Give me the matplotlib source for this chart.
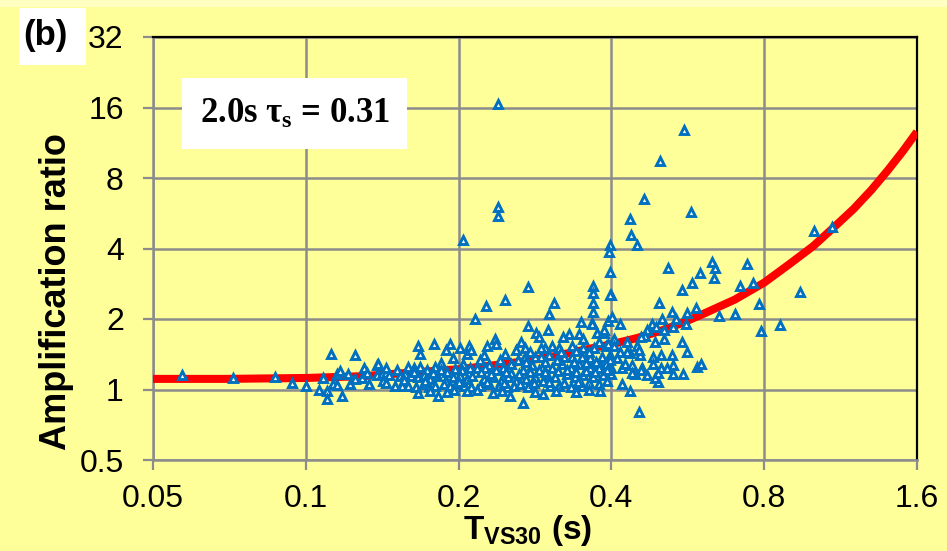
import matplotlib
matplotlib.use("Agg")
import matplotlib.pyplot as plt
from matplotlib.patches import Rectangle
from matplotlib.ticker import FixedLocator, FixedFormatter, NullLocator

plt.rcParams['font.family'] = ['Liberation Sans', 'DejaVu Sans']
plt.rcParams['mathtext.fontset'] = 'custom'
plt.rcParams['mathtext.rm'] = 'Liberation Serif:bold'
plt.rcParams['mathtext.bf'] = 'Liberation Sans:bold'

# ---------------- data ----------------
x_ticks = [0.05, 0.1, 0.2, 0.4, 0.8, 1.6]
x_tick_labels = ['0.05', '0.1', '0.2', '0.4', '0.8', '1.6']
y_ticks = [0.5, 1, 2, 4, 8, 16, 32]
y_tick_labels = ['0.5', '1', '2', '4', '8', '16', '32']

# fitted curve
curve_t = [0.05, 0.07, 0.1, 0.13, 0.16, 0.2, 0.25, 0.3, 0.35, 0.4, 0.45, 0.5, 0.55,
           0.6, 0.7, 0.8, 0.9, 1.0, 1.1, 1.2, 1.3, 1.4, 1.5, 1.6]
curve_amp = [1.11, 1.11, 1.12, 1.14, 1.18, 1.22, 1.29, 1.37, 1.47, 1.56, 1.66, 1.78, 1.92,
             2.08, 2.42, 2.86, 3.45, 4.1, 4.95, 5.9, 7.1, 8.6, 10.4, 12.6]

# observed points (T_VS30 in s, amplification ratio)
obs_t = [
    0.057, 0.072, 0.087, 0.094, 0.100,
    0.106, 0.108, 0.110, 0.110, 0.112, 0.113, 0.115, 0.115, 0.117, 0.118, 0.121, 0.122,
    0.125, 0.125, 0.129, 0.130, 0.132, 0.133, 0.138, 0.139, 0.138, 0.141, 0.142, 0.144,
    0.166, 0.179, 0.168, 0.192, 0.189, 0.201, 0.210, 0.208, 0.195, 0.185, 0.204,
    0.144, 0.151, 0.159, 0.163, 0.168, 0.173, 0.180, 0.185, 0.190, 0.197, 0.203, 0.211,
    0.146, 0.153, 0.157, 0.161, 0.166, 0.171, 0.176, 0.181, 0.189, 0.195, 0.201, 0.208, 0.213,
    0.144, 0.150, 0.155, 0.159, 0.165, 0.171, 0.175, 0.180, 0.187, 0.192, 0.198, 0.205, 0.212,
    0.166, 0.176, 0.182, 0.190, 0.196, 0.208,
    0.239, 0.556, 0.499, 0.464, 0.574, 0.239, 0.239, 0.204, 0.435, 0.438, 0.450, 0.398,
    0.395, 0.398, 0.400, 0.368, 0.368, 0.368, 0.368, 0.366, 0.274, 0.247, 0.226, 0.215,
    0.308, 0.302, 0.348, 0.274, 0.284, 0.300,
    0.517, 0.598, 0.631, 0.640, 0.637, 0.577, 0.551, 0.497, 0.587, 0.564, 0.526, 0.536,
    0.453, 0.268, 0.293, 0.435, 0.420, 0.590, 0.600, 0.553, 0.564, 0.551, 0.495, 0.488, 0.470,
    1.003, 1.088, 0.941, 0.860, 0.789, 0.780, 0.760, 0.740, 0.717, 0.700, 0.652,
    0.560, 0.530, 0.504, 0.480, 0.470, 0.465, 0.490, 0.508, 0.508, 0.487, 0.526, 0.500,
    0.484, 0.455, 0.435, 0.416, 0.397, 0.530, 0.500, 0.484, 0.460, 0.440, 0.420, 0.400,
    0.446, 0.397, 0.380, 0.390, 0.405, 0.450, 0.430,
    0.398, 0.366, 0.393, 0.375, 0.387, 0.330, 0.345, 0.321, 0.378, 0.393, 0.288, 0.305,
    0.352, 0.352, 0.334, 0.296, 0.316, 0.370,
    0.291, 0.302, 0.323, 0.334, 0.350, 0.363, 0.383, 0.397,
    0.292, 0.305, 0.319, 0.333, 0.345, 0.363, 0.378, 0.390,
    0.298, 0.310, 0.327, 0.339, 0.352, 0.368, 0.385,
    0.303, 0.316, 0.333, 0.350,
    0.236, 0.237, 0.228, 0.265, 0.270, 0.259, 0.291, 0.210, 0.212, 0.247, 0.224, 0.270, 0.283,
    0.220, 0.230, 0.254, 0.262, 0.279,
    0.217, 0.225, 0.237, 0.245, 0.254, 0.268, 0.288,
    0.224, 0.234, 0.242, 0.250, 0.259, 0.272, 0.283, 0.293,
    0.220, 0.230, 0.240, 0.249, 0.257, 0.274,
    0.217, 0.234, 0.252,
    0.402, 0.416, 0.458, 0.387, 0.405, 0.430, 0.453, 0.410, 0.425, 0.515, 0.400, 0.440,
    0.458, 0.495, 0.530,
    0.221, 0.232, 0.248, 0.263, 0.277, 0.296, 0.314, 0.327, 0.341, 0.356, 0.372, 0.392,
    0.228, 0.246, 0.264, 0.281, 0.301, 0.322, 0.343, 0.361, 0.378, 0.392,
    0.241, 0.271, 0.296, 0.312, 0.338, 0.356, 0.373,
    0.276, 0.318, 0.341, 0.361,
    0.311, 0.341, 0.361, 0.380, 0.243, 0.283,
    0.156, 0.172, 0.200, 0.163, 0.178,
]
obs_amp = [
    1.15, 1.12, 1.13, 1.07, 1.04,
    1.00, 1.12, 0.99, 0.915, 1.42, 1.06, 1.17, 1.05, 1.20, 0.94, 1.17, 1.06,
    1.41, 1.11, 1.12, 1.24, 1.18, 1.06, 1.27, 1.29, 1.15, 1.17, 1.09, 1.18,
    1.53, 1.57, 1.42, 1.57, 1.47, 1.50, 1.51, 1.42, 1.36, 1.30, 1.29,
    1.23, 1.21, 1.25, 1.23, 1.25, 1.21, 1.25, 1.21, 1.19, 1.22, 1.21, 1.23,
    1.15, 1.14, 1.16, 1.14, 1.13, 1.15, 1.11, 1.14, 1.09, 1.13, 1.14, 1.11, 1.14,
    1.07, 1.03, 1.04, 1.03, 1.02, 1.06, 1.02, 1.03, 1.06, 1.04, 1.06, 1.04, 1.02,
    0.97, 0.99, 0.94, 0.98, 1.00, 0.99,
    16.5, 12.8, 9.41, 6.48, 5.70, 5.99, 5.48, 4.37, 5.37, 4.59, 4.12, 4.16,
    3.85, 3.16, 2.54, 2.78, 2.57, 2.35, 2.15, 1.93, 2.73, 2.40, 2.28, 2.00,
    2.33, 2.11, 1.95, 1.86, 1.75, 1.80,
    3.29, 3.13, 3.49, 3.29, 2.98, 2.86, 2.65, 2.33, 2.22, 2.13, 2.15, 2.00,
    0.80, 0.88, 0.96, 0.99, 1.06, 1.25, 1.28, 1.17, 1.45, 1.59, 1.08, 1.12, 1.15,
    4.73, 4.92, 2.62, 1.88, 1.77, 2.31, 2.86, 3.45, 2.78, 2.11, 2.05,
    1.91, 1.84, 2.00, 1.91, 1.79, 1.70, 1.84, 1.65, 1.79, 1.59, 1.41, 1.41,
    1.37, 1.40, 1.43, 1.44, 1.40, 1.27, 1.24, 1.29, 1.24, 1.27, 1.24, 1.24,
    1.17, 1.18, 1.29, 1.54, 1.65, 1.54, 1.59,
    2.52, 1.91, 1.97, 1.75, 1.75, 1.73, 1.72, 1.67, 1.59, 1.57, 1.67, 1.54,
    1.65, 1.51, 1.54, 1.51, 1.50, 1.51,
    1.37, 1.40, 1.37, 1.37, 1.37, 1.36, 1.37, 1.33,
    1.24, 1.24, 1.29, 1.24, 1.29, 1.23, 1.24, 1.29,
    1.15, 1.13, 1.17, 1.13, 1.15, 1.13, 1.15,
    1.04, 1.04, 1.02, 1.04,
    1.65, 1.57, 1.54, 1.59, 1.50, 1.47, 1.51, 1.54, 1.47, 1.42, 1.40, 1.37, 1.37,
    1.33, 1.27, 1.29, 1.33, 1.27,
    1.23, 1.24, 1.21, 1.23, 1.18, 1.21, 1.21,
    1.11, 1.13, 1.09, 1.13, 1.09, 1.11, 1.13, 1.09,
    1.04, 1.06, 1.04, 1.02, 1.04, 1.02,
    1.00, 0.97, 0.94,
    2.03, 1.91, 1.67, 1.79, 1.54, 1.44, 1.47, 1.36, 1.29, 1.24, 1.17, 1.18,
    1.21, 1.18, 1.17,
    1.19, 1.17, 1.19, 1.16, 1.19, 1.19, 1.20, 1.21, 1.19, 1.20, 1.19, 1.21,
    1.08, 1.07, 1.06, 1.07, 1.08, 1.07, 1.08, 1.07, 1.06, 1.09,
    1.33, 1.31, 1.31, 1.33, 1.31, 1.30, 1.31,
    1.45, 1.44, 1.46, 1.44,
    0.99, 0.98, 1.00, 0.99, 0.99, 0.98,
    1.10, 1.09, 1.08, 1.19, 1.18,
]

# ---------------- styling ----------------
bg = '#FFFF99'
grid_col = '#8C8C8C'
blue = '#0070C0'

fig = plt.figure(figsize=(9.47, 5.51), dpi=100, facecolor=bg)
# lighter band at the very top of the slide image
fig.patches.append(Rectangle((0, 1 - 7 / 551), 1, 7 / 551, transform=fig.transFigure,
                             facecolor='#FFFFC2', edgecolor='none', zorder=0))

ax = fig.add_axes([153 / 947, 1 - 460 / 551, (917 - 153) / 947, (460 - 37) / 551])
ax.set_facecolor(bg)
ax.set_xscale('log', base=2)
ax.set_yscale('log', base=2)
ax.set_xlim(x_ticks[0], x_ticks[-1])
ax.set_ylim(y_ticks[0], y_ticks[-1])

ax.xaxis.set_major_locator(FixedLocator(x_ticks))
ax.xaxis.set_major_formatter(FixedFormatter(x_tick_labels))
ax.xaxis.set_minor_locator(NullLocator())
ax.yaxis.set_major_locator(FixedLocator(y_ticks))
ax.yaxis.set_major_formatter(FixedFormatter(y_tick_labels))
ax.yaxis.set_minor_locator(NullLocator())

ax.grid(True, color=grid_col, linewidth=1.8, zorder=0)
ax.set_axisbelow(True)
ax.tick_params(axis='both', which='major', direction='out', length=7, width=1.6,
               color=grid_col, labelsize=23, labelcolor='black')
ax.tick_params(axis='y', pad=14)
ax.tick_params(axis='x', pad=10)

for side in ['left', 'bottom']:
    ax.spines[side].set_color(grid_col)
    ax.spines[side].set_linewidth(1.8)
for side in ['top', 'right']:
    ax.spines[side].set_color('black')
    ax.spines[side].set_linewidth(1.6)

ax.plot(curve_t, curve_amp, color='#FF0000', linewidth=5.8, solid_capstyle='butt',
        zorder=3, clip_on=True)
ax.plot(obs_t, obs_amp, linestyle='none', marker='^', markersize=5.6,
        markerfacecolor='white', markeredgecolor=blue, markeredgewidth=2.1, zorder=4)

ax.set_ylabel('Amplification ratio', fontsize=26, fontweight='bold')
ax.yaxis.set_label_coords((74 - 153) / 764, (460 - 292) / 423)
ax.set_xlabel(r'$\mathbf{T_{VS30}}$ (s)', fontsize=24, fontweight='bold')
ax.xaxis.set_label_coords((528 - 153) / 764, (460 - 513) / 423)

# annotation box
ax.add_patch(Rectangle(((182 - 153) / 764, (460 - 149) / 423), 225 / 764, 71 / 423,
                       transform=ax.transAxes, facecolor='white', edgecolor='none', zorder=5))
ax.text((295 - 153) / 764, (460 - 114) / 423, r'2.0s $\mathrm{\tau_s}$ = 0.31',
        transform=ax.transAxes, ha='center', va='center', fontsize=25,
        family=['Liberation Serif', 'DejaVu Serif'], fontweight='bold', zorder=6)

# panel label
fig.patches.append(Rectangle((19 / 947, 1 - 65 / 551), 67 / 947, 57 / 551,
                             transform=fig.transFigure, facecolor='white',
                             edgecolor='none', zorder=1))
fig.text(45 / 947, 1 - 35 / 551, '(b)', ha='center', va='center', fontsize=25,
         fontweight='bold', zorder=2)

fig.savefig('out.png', dpi=100, facecolor=bg)
